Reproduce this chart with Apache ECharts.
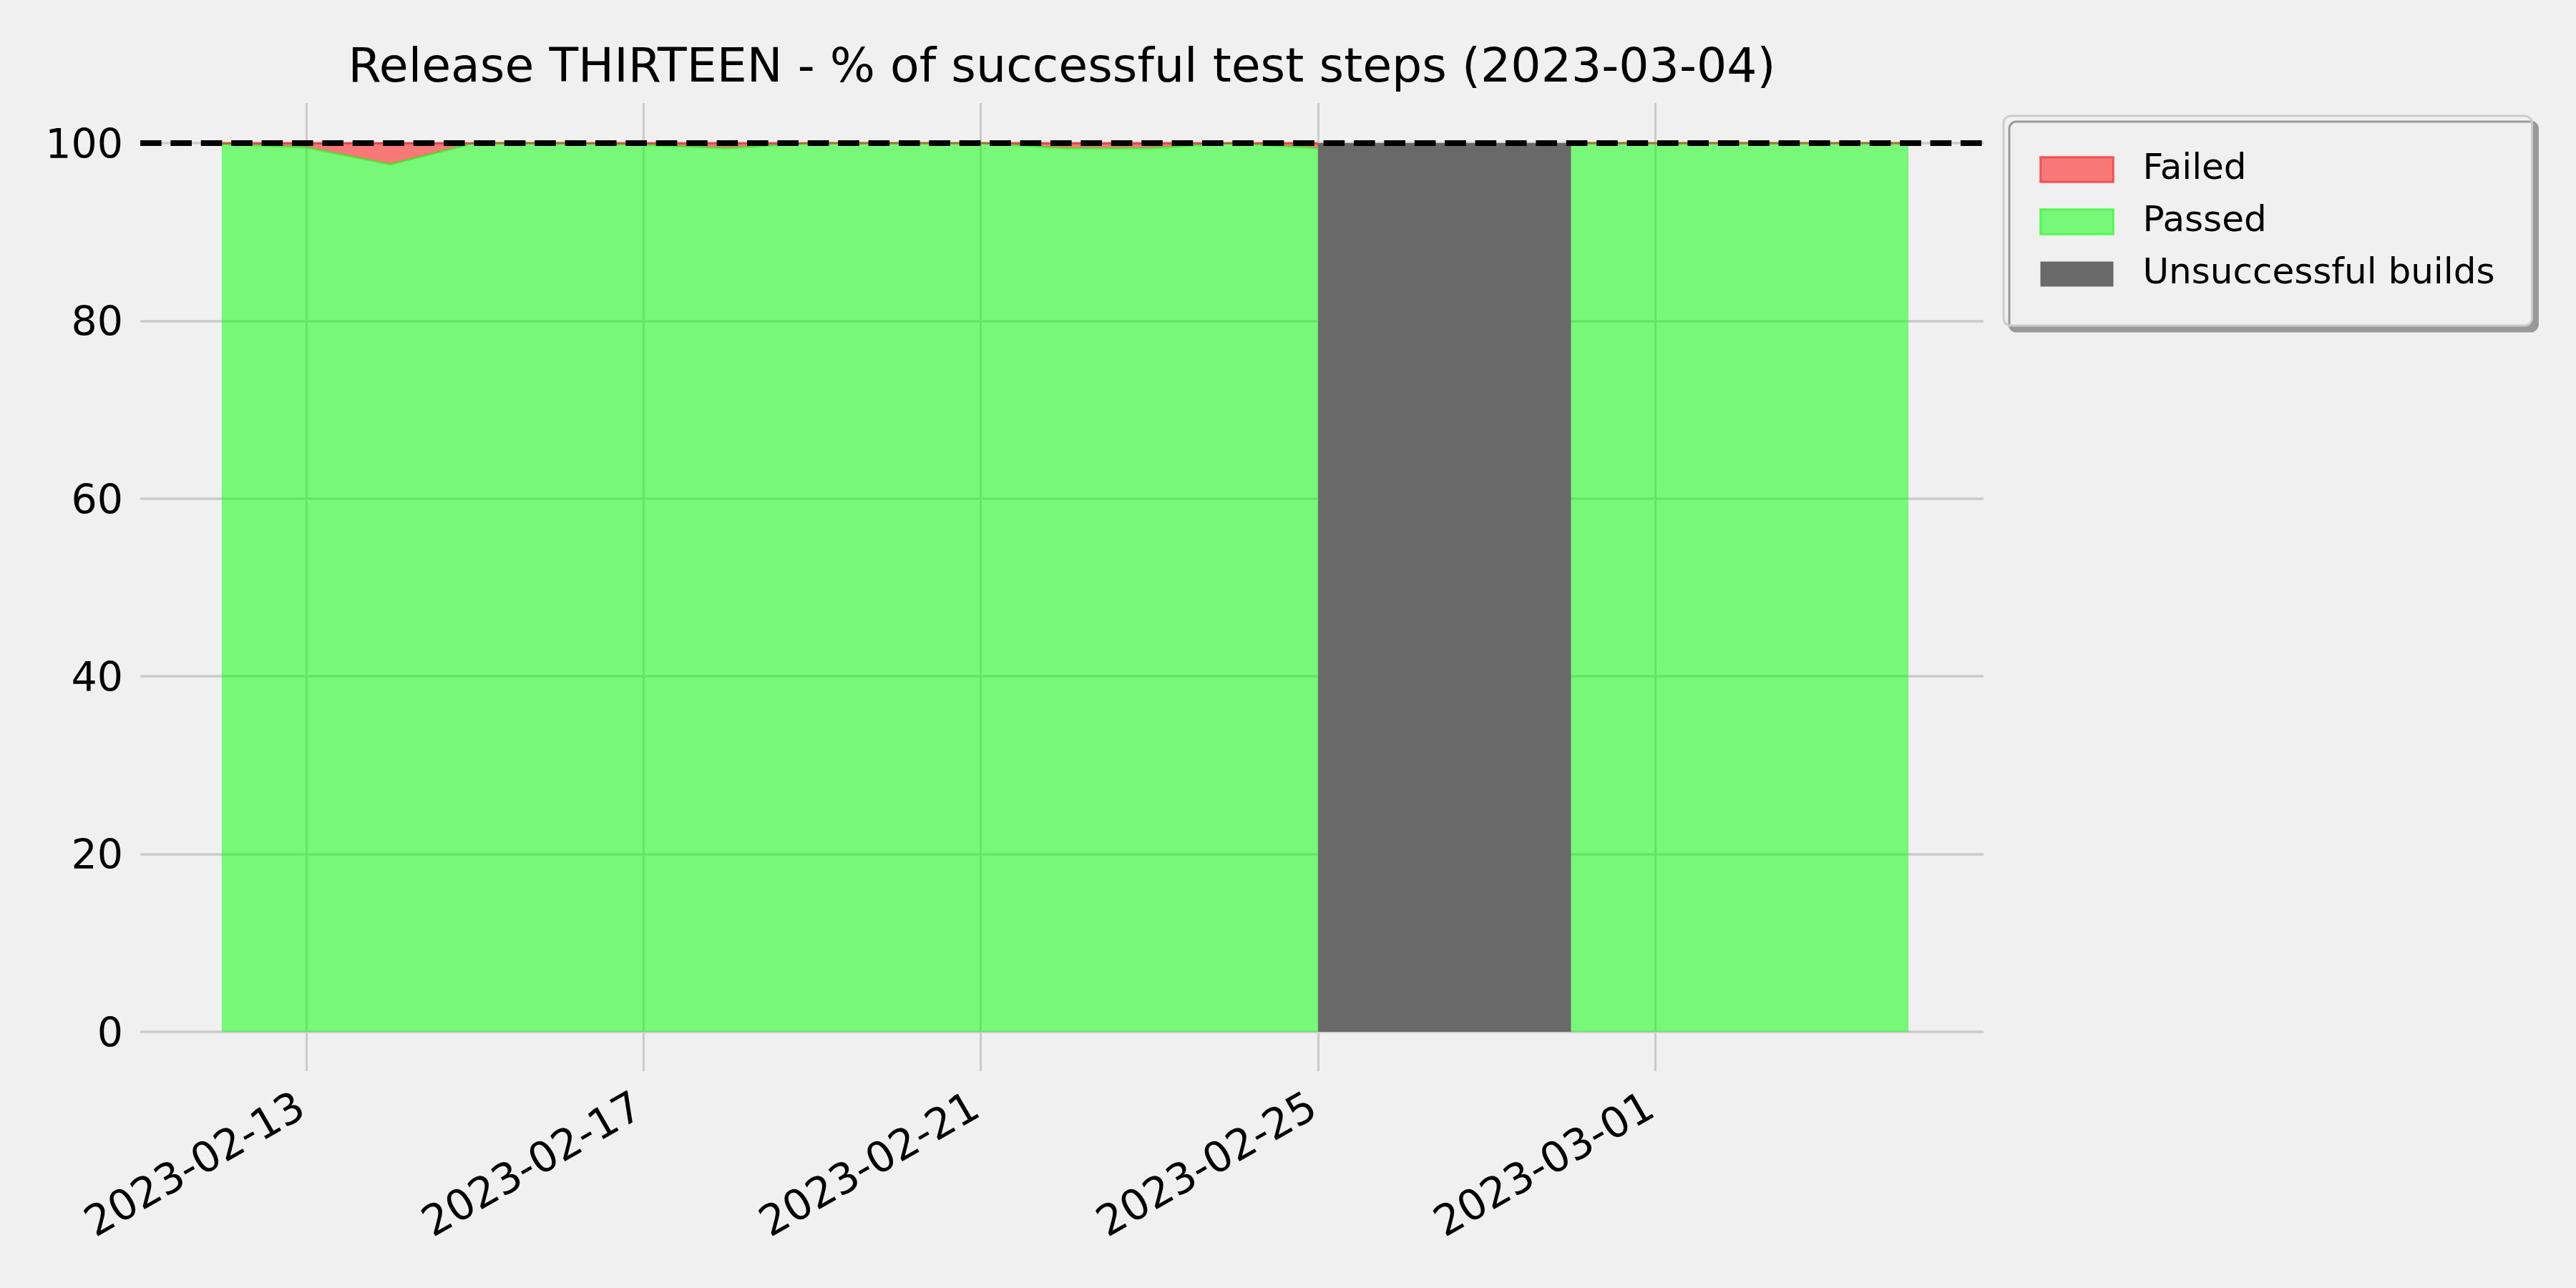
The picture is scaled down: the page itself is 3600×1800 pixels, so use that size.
<!DOCTYPE html>
<html>
<head>
<meta charset="utf-8">
<script src="https://cdn.jsdelivr.net/npm/echarts@6/dist/echarts.min.js"></script>
<style>
html, body { margin: 0; padding: 0; background: #f0f0f0; }
#chart { width: 3600px; height: 1800px; }
</style>
</head>
<body>
<div id="chart"></div>
<script>
// ---------------- data ----------------
const titleText = 'Release THIRTEEN - % of successful test steps (2023-03-04)';
const seriesNames = ['Failed', 'Passed', 'Unsuccessful builds'];
const dates = [
  '2023-02-12', '2023-02-13', '2023-02-14', '2023-02-15', '2023-02-16', '2023-02-17',
  '2023-02-18', '2023-02-19', '2023-02-20', '2023-02-21', '2023-02-22', '2023-02-23',
  '2023-02-24', '2023-02-25', '2023-02-26', '2023-02-27', '2023-02-28', '2023-03-01',
  '2023-03-02', '2023-03-03', '2023-03-04'
];
const failedPct = [0.1, 0.5, 2.4, 0, 0, 0.2, 0.6, 0, 0, 0, 0.6, 0.6, 0, 0.6, null, null, 0, 0, 0, 0, 0];
const passedPct = [99.9, 99.5, 97.6, 100, 100, 99.8, 99.4, 100, 100, 100, 99.4, 99.4, 100, 99.4, null, null, 100, 100, 100, 100, 100];
const unsuccessfulSpan = ['2023-02-25', '2023-02-28'];
const unsuccessfulRange = [0, 100];
const targetPct = 100;
const xTickLabels = ['2023-02-13', '2023-02-17', '2023-02-21', '2023-02-25', '2023-03-01'];
const yTickLabels = [0, 20, 40, 60, 80, 100];

// ---------------- helpers ----------------
function ts(s) {
  const [d, t] = s.split('T');
  const [y, m, dd] = d.split('-').map(Number);
  let hh = 0, mm = 0;
  if (t) { [hh, mm] = t.split(':').map(Number); }
  return new Date(y, m - 1, dd, hh, mm).getTime();
}
const FONT = 'DejaVu Sans';
const GRID = { left: 196, right: 828, top: 144, bottom: 358 };
const plotCenterX = GRID.left + (3600 - GRID.left - GRID.right) / 2;
const TITLE_SIZE = 66.5;
const cv = document.createElement('canvas').getContext('2d');
cv.font = TITLE_SIZE + 'px "' + FONT + '"';
const titleW = cv.measureText(titleText).width;

const passedData = dates.map((d, i) => [ts(d), passedPct[i]]);
const failedData = dates.map((d, i) => [ts(d), failedPct[i]]);

const chart = echarts.init(document.getElementById('chart'), null, { renderer: 'canvas' });

const option = {
  backgroundColor: '#f0f0f0',
  animation: false,
  textStyle: { fontFamily: FONT },
  title: {
    text: titleText,
    left: plotCenterX - titleW / 2,
    top: 63,
    padding: 0,
    textStyle: { fontFamily: FONT, fontSize: TITLE_SIZE, fontWeight: 'normal', color: '#000000' }
  },
  legend: {
    orient: 'vertical',
    left: 2800,
    top: 162,
    padding: [50, 52, 47, 50],
    itemWidth: 102,
    itemHeight: 35,
    itemGap: 23,
    icon: 'rect',
    selectedMode: false,
    backgroundColor: '#f0f0f0',
    borderColor: '#cccccc',
    borderWidth: 3,
    borderRadius: 10,
    shadowColor: '#999999',
    shadowBlur: 0,
    shadowOffsetX: 8,
    shadowOffsetY: 8,
    textStyle: { fontFamily: FONT, fontSize: 50, color: '#000000', padding: [0, 0, 0, 36] },
    data: [
      { name: seriesNames[0], itemStyle: { color: 'rgba(255,0,0,0.5)', borderColor: 'rgba(255,0,0,0.5)', borderWidth: 3 } },
      { name: seriesNames[1], itemStyle: { color: 'rgba(0,255,0,0.5)', borderColor: 'rgba(0,255,0,0.5)', borderWidth: 3 } },
      { name: seriesNames[2], itemStyle: { color: '#696969', borderWidth: 0 } }
    ]
  },
  grid: Object.assign({ outerBoundsMode: 'none', containLabel: false }, GRID),
  xAxis: {
    type: 'time',
    min: ts('2023-02-11T00:48'),
    max: ts('2023-03-04T21:22'),
    axisLine: { show: false },
    axisTick: {
      show: true, length: 55, inside: false,
      customValues: xTickLabels.map(ts),
      lineStyle: { color: '#cbcbcb', width: 3 }
    },
    axisLabel: {
      customValues: xTickLabels.map(ts),
      formatter: '{yyyy}-{MM}-{dd}',
      rotate: 30,
      margin: 100,
      padding: [0, 6, 0, 0],
      fontFamily: FONT,
      fontSize: 59,
      color: '#000000',
      hideOverlap: false
    },
    splitLine: { show: true, lineStyle: { color: '#cbcbcb', width: 3 } }
  },
  yAxis: {
    type: 'value',
    min: 0,
    max: 104.5,
    axisLine: { show: false },
    axisTick: { show: false, customValues: yTickLabels },
    axisLabel: {
      customValues: yTickLabels,
      margin: 24,
      formatter: '{v|{value}}',
      rich: { v: { fontFamily: FONT, fontSize: 57, color: '#000000', padding: [12, 0, 0, 0] } },
      fontFamily: FONT,
      fontSize: 57,
      color: '#000000'
    },
    splitLine: { show: true, lineStyle: { color: '#cbcbcb', width: 3.5 } }
  },
  series: [
    {
      name: seriesNames[1],
      type: 'line',
      stack: 'pct',
      data: passedData,
      symbol: 'none',
      showSymbol: false,
      z: 2,
      itemStyle: { color: 'rgba(0,255,0,0.5)' },
      lineStyle: { color: 'rgba(0,255,0,0.5)', width: 3 },
      areaStyle: { color: 'rgba(0,255,0,0.5)', opacity: 1 }
    },
    {
      name: seriesNames[0],
      type: 'line',
      stack: 'pct',
      data: failedData,
      symbol: 'none',
      showSymbol: false,
      z: 2,
      itemStyle: { color: 'rgba(255,0,0,0.5)' },
      lineStyle: { color: 'rgba(255,0,0,0.5)', width: 3 },
      areaStyle: { color: 'rgba(255,0,0,0.5)', opacity: 1 }
    },
    {
      name: seriesNames[2],
      type: 'line',
      data: [],
      z: 3,
      itemStyle: { color: '#696969' },
      markArea: {
        silent: true,
        itemStyle: { color: '#696969', opacity: 1, borderWidth: 0 },
        label: { show: false },
        data: [[
          { coord: [ts(unsuccessfulSpan[0]), unsuccessfulRange[0]] },
          { coord: [ts(unsuccessfulSpan[1]), unsuccessfulRange[1]] }
        ]]
      }
    },
    {
      name: 'target',
      type: 'line',
      data: [],
      z: 5,
      markLine: {
        silent: true,
        symbol: ['none', 'none'],
        label: { show: false },
        lineStyle: { color: '#000000', width: 8, type: [29.6, 12.8], opacity: 1 },
        data: [{ yAxis: targetPct }]
      }
    }
  ]
};
chart.setOption(option);
</script>
</body>
</html>
